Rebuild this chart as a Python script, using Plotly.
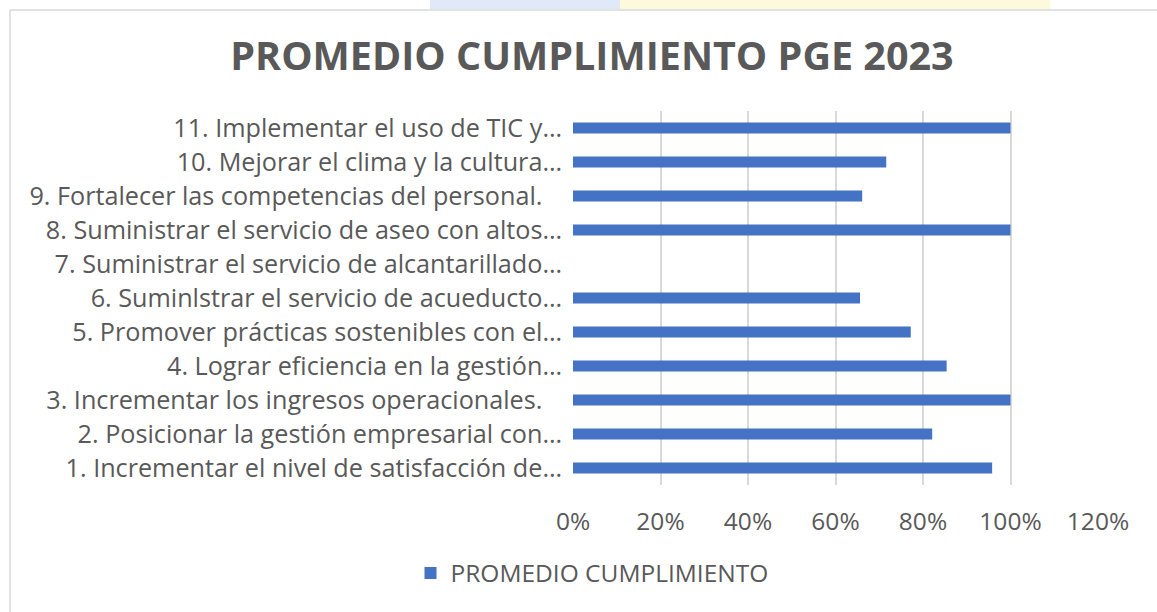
import plotly.graph_objects as go

categories = [
    "1. Incrementar el nivel de satisfacción de…",
    "2. Posicionar la gestión empresarial con…",
    "3. Incrementar los ingresos operacionales.\u00a0\u00a0\u00a0",
    "4. Lograr eficiencia en la gestión…",
    "5. Promover prácticas sostenibles con el…",
    "6. Suminlstrar el servicio de acueducto…",
    "7. Suministrar el servicio de alcantarillado…",
    "8. Suministrar el servicio de aseo con altos…",
    "9. Fortalecer las competencias del personal.\u00a0\u00a0\u00a0",
    "10. Mejorar el clima y la cultura…",
    "11. Implementar el uso de TIC y…",
]
values = [0.958, 0.821, 1.0, 0.854, 0.772, 0.656, 0.0, 1.0, 0.661, 0.716, 1.0]
tick_vals = [0, 0.2, 0.4, 0.6, 0.8, 1.0, 1.2]
tick_text = ["0%", "20%", "40%", "60%", "80%", "100%", "120%"]

W, H = 1157, 612
L, R, T, B = 573, 59, 111, 127
pw, ph = W - L - R, H - T - B

def px(x):
    return (x - L) / pw

def py(y):
    return (H - B - y) / ph

fig = go.Figure(go.Bar(
    y=categories, x=values, orientation="h",
    name="PROMEDIO CUMPLIMIENTO",
    marker=dict(color="#4472C4", line=dict(width=0)),
    width=0.32,
))

font_family = "Open Sans, sans-serif"
grey = "#595959"
fsize = 24.5

fig.update_layout(
    width=W, height=H,
    margin=dict(l=L, r=R, t=T, b=B, autoexpand=False),
    paper_bgcolor="white", plot_bgcolor="white",
    title=dict(text="<b>PROMEDIO CUMPLIMIENTO PGE 2023</b>", x=592 / W, xanchor="center",
               y=1 - 56 / H, yanchor="middle",
               font=dict(family="Open Sans, sans-serif", size=39.5, color=grey)),
    xaxis=dict(range=[0, 1.2], tickvals=tick_vals, ticktext=tick_text,
               showgrid=True, gridcolor="#D9D9D9", gridwidth=1.5, zeroline=False,
               showline=False, ticks="", ticklabelstandoff=19,
               tickfont=dict(family=font_family, size=fsize, color=grey)),
    yaxis=dict(showgrid=False, zeroline=False, showline=False, ticks="",
               ticklabelstandoff=10,
               tickfont=dict(family=font_family, size=25.2, color=grey)),
    showlegend=True,
    legend=dict(orientation="h", x=px(592), xanchor="center", y=py(573), yanchor="middle",
                font=dict(family=font_family, size=fsize, color=grey)),
    bargap=0.68,
)

shapes = [
    dict(type="rect", xref="paper", yref="paper", x0=px(10), x1=px(1160), y0=py(10), y1=py(615),
         line=dict(color="#D9D9D9", width=1.5), fillcolor="rgba(0,0,0,0)", layer="below"),
    dict(type="rect", xref="paper", yref="paper", x0=px(430), x1=px(620), y0=py(0), y1=py(9),
         line=dict(width=0), fillcolor="rgba(170,190,235,0.35)", layer="below"),
    dict(type="rect", xref="paper", yref="paper", x0=px(620), x1=px(1050), y0=py(0), y1=py(9),
         line=dict(width=0), fillcolor="rgba(250,240,170,0.4)", layer="below"),
]
fig.update_layout(shapes=shapes)

fig.write_html("out.html", config={"displayModeBar": False},
               post_script="document.body.style.margin='0';")
